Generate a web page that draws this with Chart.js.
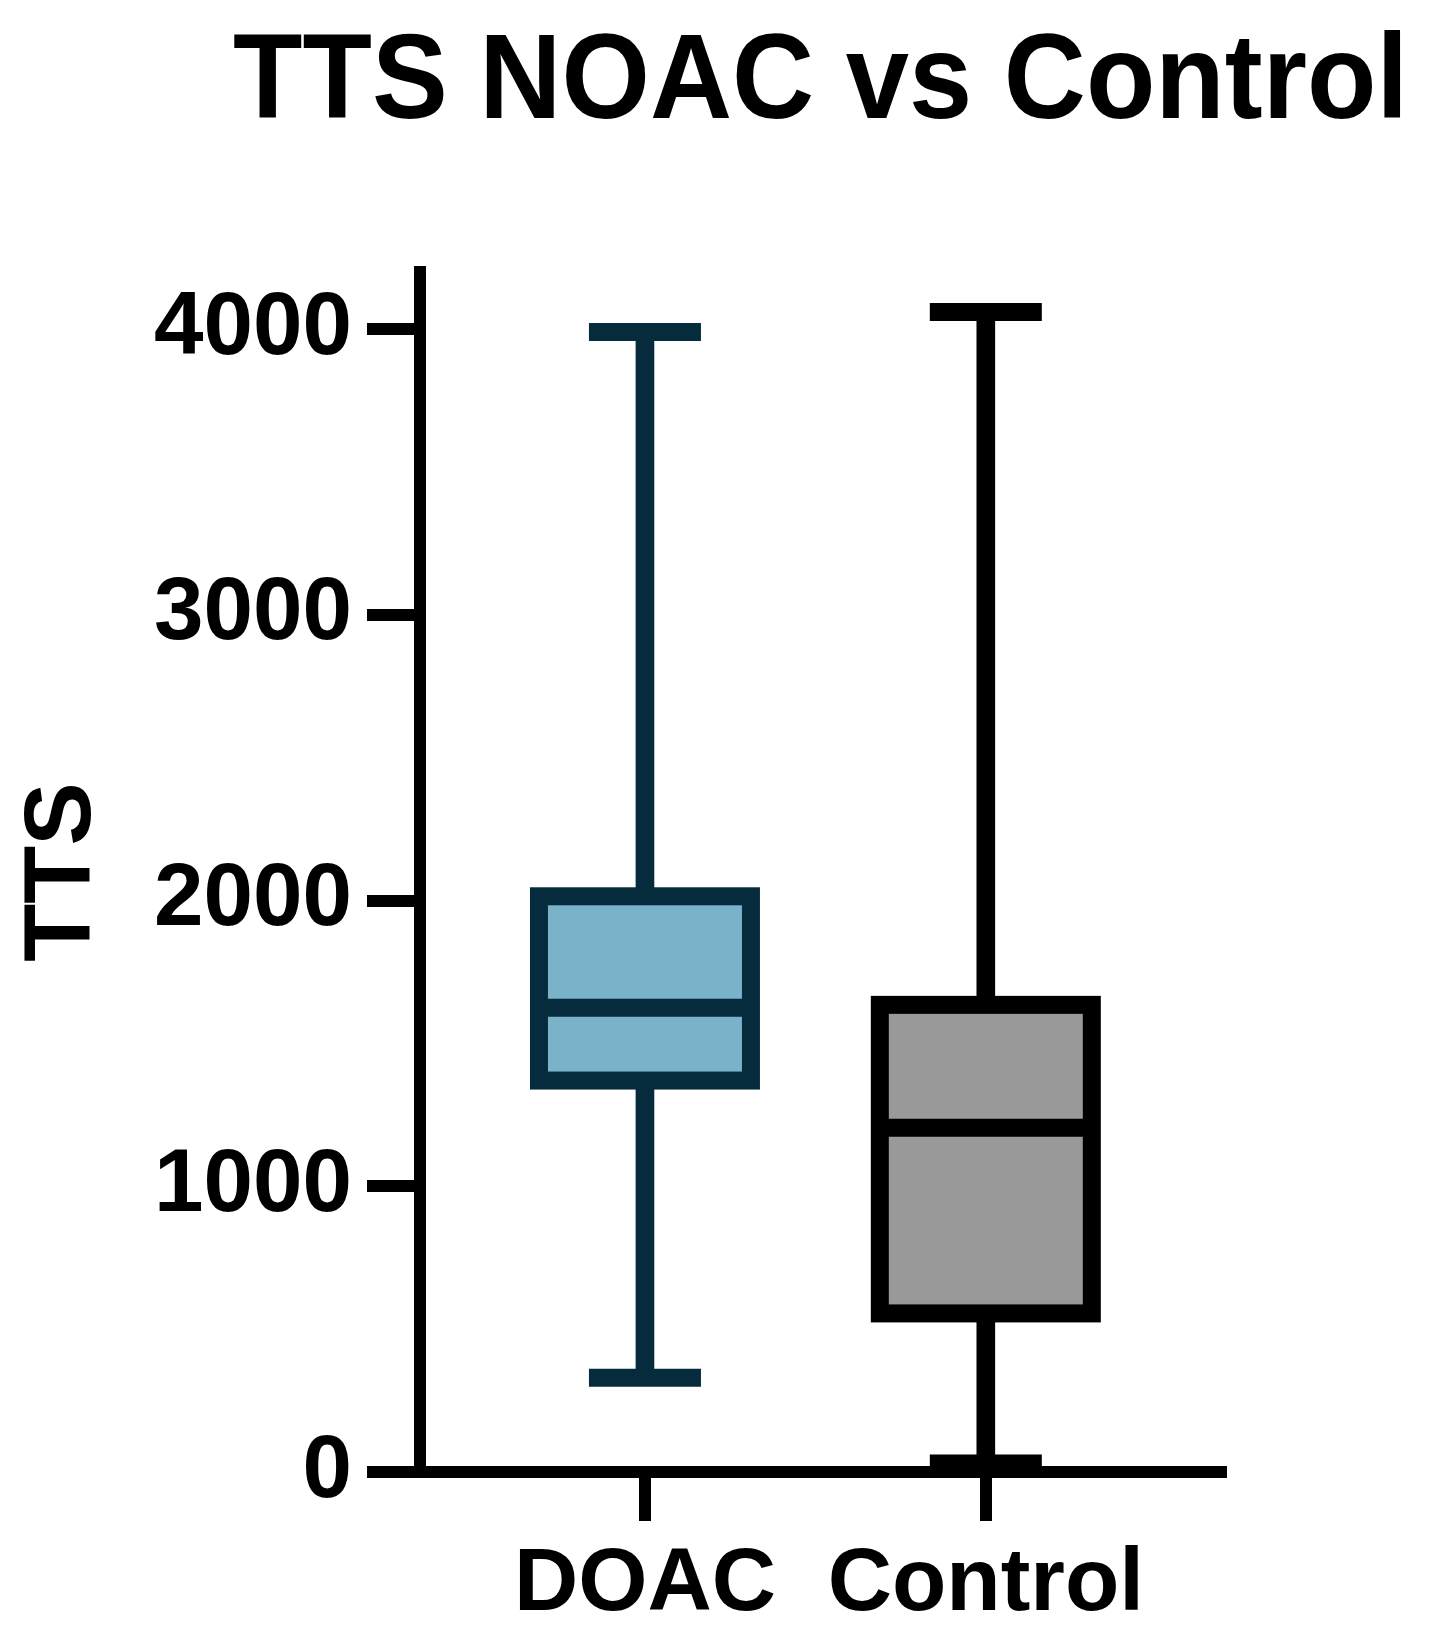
<!DOCTYPE html>
<html>
<head>
<meta charset="utf-8">
<title>TTS NOAC vs Control</title>
<script src="https://cdn.jsdelivr.net/npm/chart.js@4.4.1/dist/chart.umd.min.js"></script>
<style>
  html, body { margin: 0; padding: 0; background: #fff; }
  #wrap { width: 1435px; height: 1647px; }
</style>
</head>
<body>
<div id="wrap"><canvas id="ttsChart" width="1435" height="1647"></canvas></div>
<script>
// values
const titleText = 'TTS NOAC vs Control';
const groups = ['DOAC', 'Control'];
const whiskerMin = [330, 30];
const quartile1 = [1370, 555];
const medians = [1625, 1205];
const quartile3 = [2015, 1635];
const whiskerMax = [3990, 4060];
const yTicks = [0, 1000, 2000, 3000, 4000];

const lineColors = ['#062b3c', '#000000'];
const fillColors = ['#7ab2c9', '#999999'];
const FONT = "'Liberation Sans', Arial, Helvetica, sans-serif";
const LINE = 18; // stroke width of boxes and whiskers

// box outline, stroked on the edges of the floating bars
const boxOutline = {
    id: 'boxOutline',
    afterDatasetsDraw(chart) {
        const ctx = chart.ctx;
        const meta = chart.getDatasetMeta(1);
        ctx.save();
        ctx.lineWidth = LINE;
        meta.data.forEach((bar, i) => {
            const p = bar.getProps(['x', 'y', 'base', 'width'], true);
            ctx.strokeStyle = lineColors[i];
            ctx.strokeRect(p.x - p.width / 2, p.y, p.width, p.base - p.y);
        });
        ctx.restore();
    }
};

// title centred over the plot area (the chart.js title would be squeezed)
const chartTitle = {
    id: 'chartTitle',
    afterDraw(chart) {
        const { ctx, chartArea } = chart;
        ctx.save();
        ctx.font = 'bold 120px ' + FONT;
        ctx.fillStyle = '#000';
        ctx.textAlign = 'center';
        ctx.textBaseline = 'alphabetic';
        ctx.fillText(titleText, (chartArea.left + chartArea.right) / 2, 118, 1175);
        ctx.restore();
    }
};

const pointsOf = arrs => groups.flatMap((g, i) => arrs.map(a => ({ x: i + 1, y: a[i] })));
const colorsOf = n => groups.flatMap((g, i) => Array(n).fill(lineColors[i]));

const axisGrid = len => ({
    drawOnChartArea: false,
    drawTicks: true,
    tickLength: len,
    lineWidth: 12,
    tickWidth: 12,
    color: '#000',
    tickColor: '#000',
    offset: false
});

new Chart(document.getElementById('ttsChart'), {
    type: 'bar',
    data: {
        datasets: [
            {
                // whiskers, min to max
                type: 'bar',
                data: groups.map((g, i) => ({ x: i + 1, y: [whiskerMin[i], whiskerMax[i]] })),
                backgroundColor: lineColors,
                barThickness: LINE,
                grouped: false,
                order: 3
            },
            {
                // boxes, Q1 to Q3
                type: 'bar',
                data: groups.map((g, i) => ({ x: i + 1, y: [quartile1[i], quartile3[i]] })),
                backgroundColor: fillColors,
                borderWidth: 0,
                barThickness: 212,
                grouped: false,
                order: 2
            },
            {
                // medians
                type: 'line',
                data: pointsOf([medians]),
                showLine: false,
                pointStyle: 'line',
                pointRadius: 106,
                pointBorderWidth: LINE,
                pointBorderColor: colorsOf(1),
                order: 1
            },
            {
                // whisker caps
                type: 'line',
                data: pointsOf([whiskerMin, whiskerMax]),
                showLine: false,
                pointStyle: 'line',
                pointRadius: 56,
                pointBorderWidth: LINE,
                pointBorderColor: colorsOf(2),
                order: 1
            }
        ]
    },
    options: {
        responsive: false,
        animation: false,
        events: [],
        // tick padding gets counted twice in the axis size, hence the odd bottom value
        layout: { padding: { top: 272, right: 214, bottom: -2, left: 0 } },
        plugins: {
            legend: { display: false },
            tooltip: { enabled: false }
        },
        scales: {
            x: {
                type: 'linear',
                min: 0.34,
                max: 2.69,
                offset: false,
                afterBuildTicks: s => { s.ticks = groups.map((g, i) => ({ value: i + 1 })); },
                ticks: {
                    callback: v => groups[v - 1],
                    font: { family: FONT, size: 89, weight: 'bold', lineHeight: 0.8 },
                    color: '#000',
                    padding: 28.4,
                    maxRotation: 0,
                    autoSkip: false
                },
                grid: axisGrid(49),
                border: { display: true, width: 12, color: '#000' }
            },
            y: {
                min: 0,
                max: 4200,
                afterBuildTicks: s => { s.ticks = yTicks.map(v => ({ value: v })); },
                ticks: {
                    callback: v => String(v),
                    font: { family: FONT, size: 89, weight: 'bold' },
                    color: '#000',
                    padding: 15
                },
                grid: axisGrid(53),
                border: { display: true, width: 12, color: '#000' },
                title: {
                    display: true,
                    text: 'TTS',
                    color: '#000',
                    font: { family: FONT, size: 95, weight: 'bold' },
                    padding: { top: 7, bottom: 18 }
                }
            }
        }
    },
    plugins: [boxOutline, chartTitle]
});
</script>
</body>
</html>
